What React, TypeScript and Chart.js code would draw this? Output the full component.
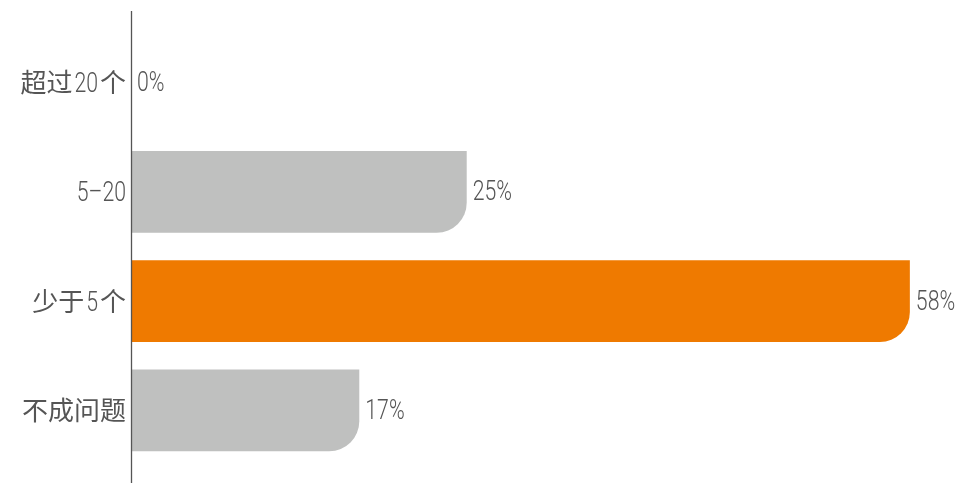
import React, { useEffect, useRef } from "react";
import { Chart, registerables } from "chart.js";

Chart.register(...registerables);

const categories = ["超过20个", "5–20", "少于5个", "不成问题"];
const shares = [0, 25, 58, 17];
const highlightIndex = 2;

const GRAY = "#bfc0bf";
const ORANGE = "#ef7a00";
const TEXT = "#555555";
const CJK_FONT = '26px "Noto Sans CJK SC", sans-serif';
const LATIN_FONT = '300 28px Roboto, "Noto Sans", sans-serif';
const LATIN_SQUEEZE = 0.76; // narrow the Latin glyphs to a condensed look

const isCJK = (ch: string) => ch.charCodeAt(0) >= 0x2e80;

// Split text into runs of CJK and non-CJK characters
function splitRuns(text: string) {
  const runs: { text: string; cjk: boolean }[] = [];
  for (const ch of text) {
    const cjk = isCJK(ch);
    const last = runs[runs.length - 1];
    if (last && last.cjk === cjk) last.text += ch;
    else runs.push({ text: ch, cjk });
  }
  return runs;
}

function runWidth(ctx: CanvasRenderingContext2D, run: { text: string; cjk: boolean }) {
  ctx.font = run.cjk ? CJK_FONT : LATIN_FONT;
  const w = ctx.measureText(run.text).width;
  return run.cjk ? w : w * LATIN_SQUEEZE;
}

// Draw mixed text with its baseline at y; align is "left" or "right" around x
function drawMixed(ctx: CanvasRenderingContext2D, text: string, x: number, y: number, align: "left" | "right") {
  const runs = splitRuns(text);
  const widths = runs.map((r) => runWidth(ctx, r));
  const gap = 2; // small space between a Latin run and the following CJK run
  const total = widths.reduce((a, b) => a + b, 0) + gap * (runs.length - 1);
  let cx = align === "left" ? x : x - total;
  ctx.textAlign = "left";
  ctx.textBaseline = "alphabetic";
  runs.forEach((r, i) => {
    ctx.font = r.cjk ? CJK_FONT : LATIN_FONT;
    if (r.cjk) {
      ctx.fillText(r.text, cx, y);
    } else {
      ctx.save();
      ctx.translate(cx, y);
      ctx.scale(LATIN_SQUEEZE, 1);
      ctx.fillText(r.text, 0, 0);
      ctx.restore();
    }
    cx += widths[i] + gap;
  });
}

// Vertical baseline on the left of the plot, extending a little beyond the bars
const baselinePlugin = {
  id: "baseline",
  afterDatasetsDraw(chart: any) {
    const { ctx, chartArea } = chart;
    ctx.save();
    ctx.strokeStyle = "#555555";
    ctx.lineWidth = 1.3;
    ctx.beginPath();
    ctx.moveTo(chartArea.left + 0.5, chartArea.top - 17);
    ctx.lineTo(chartArea.left + 0.5, chartArea.bottom + 18);
    ctx.stroke();
    ctx.restore();
  },
};

// Category names on the left and percentage labels after each bar
const labelPlugin = {
  id: "labels",
  afterDatasetsDraw(chart: any) {
    const { ctx, chartArea } = chart;
    const yScale = chart.scales.y;
    const meta = chart.getDatasetMeta(0);
    ctx.save();
    ctx.fillStyle = TEXT;
    categories.forEach((label, i) => {
      const y = yScale.getPixelForTick(i);
      drawMixed(ctx, label, chartArea.left - 5, y + 9.5, "right");
    });
    meta.data.forEach((bar: any, i: number) => {
      drawMixed(ctx, `${shares[i]}%`, bar.x + 6, bar.y + 8.5, "left");
    });
    ctx.restore();
  },
};

export default function App() {
  const canvasRef = useRef<HTMLCanvasElement | null>(null);

  useEffect(() => {
    document.body.style.margin = "0";
    const canvas = canvasRef.current;
    if (!canvas) return;
    const chart = new Chart(canvas, {
      type: "bar",
      data: {
        labels: categories,
        datasets: [
          {
            data: shares,
            backgroundColor: shares.map((_, i) => (i === highlightIndex ? ORANGE : GRAY)),
            borderWidth: 0,
            borderRadius: { topLeft: 0, topRight: 0, bottomLeft: 0, bottomRight: 30 },
            borderSkipped: "start",
            barPercentage: 0.75,
            categoryPercentage: 1,
          },
        ],
      },
      options: {
        indexAxis: "y",
        animation: false,
        responsive: false,
        events: [],
        layout: { padding: { top: 28, bottom: 32, left: 0, right: 0 } },
        plugins: {
          legend: { display: false },
          tooltip: { enabled: false },
        },
        scales: {
          x: {
            display: false,
            min: 0,
            max: 63,
          },
          y: {
            afterFit(scale: any) {
              scale.width = 131;
            },
            grid: { display: false, drawTicks: false },
            border: { display: false },
            ticks: { display: false },
          },
        },
      },
      plugins: [baselinePlugin, labelPlugin],
    });
    return () => chart.destroy();
  }, []);

  return (
    <div style={{ width: 977, height: 497 }}>
      <canvas ref={canvasRef} width={977} height={497} style={{ display: "block" }} />
    </div>
  );
}
